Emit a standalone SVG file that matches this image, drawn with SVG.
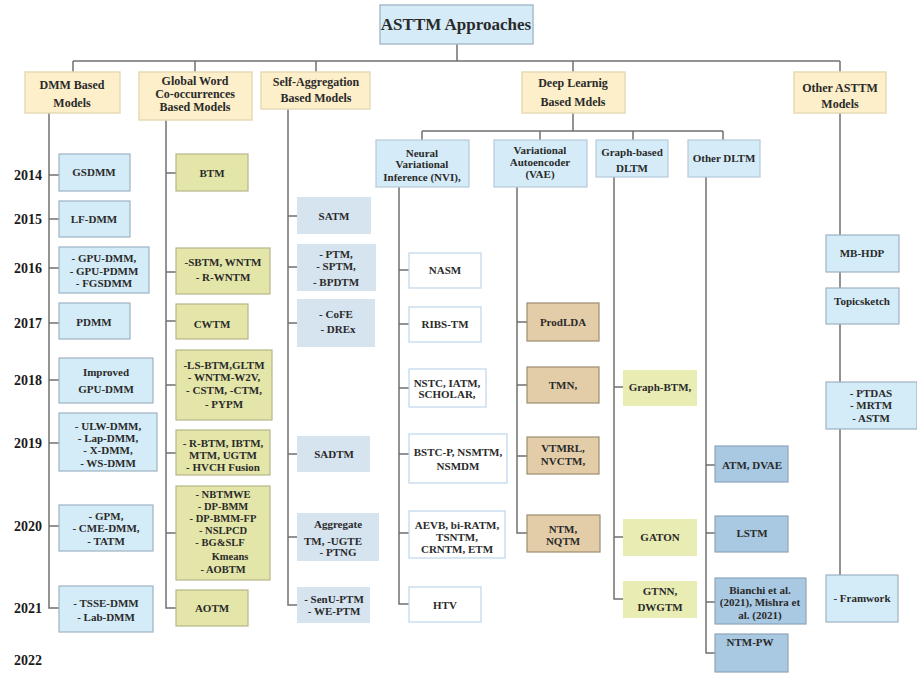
<svg xmlns="http://www.w3.org/2000/svg" width="917" height="673" viewBox="0 0 917 673">
<style>
text{font-family:"Liberation Serif","Times New Roman",serif;font-weight:bold;fill:#2a2a2a;text-anchor:middle}
.t{font-size:11px}
.s{font-size:10.5px}
.c{font-size:12px}
.y{font-size:14px;fill:#1a1a1a}
.title{fill:#d5ecf8;stroke:#a9bccb;stroke-width:1.5}
.cat{fill:#fcefc9;stroke:#e6dab8;stroke-width:1.5}
.sub{fill:#d5ecf8;stroke:#b5cadb;stroke-width:1.2}
.dmm{fill:#d4ecf8;stroke:#9fb2c2;stroke-width:1.2}
.gw{fill:#e3e6a8;stroke:#b6b68c;stroke-width:1.2}
.sa{fill:#d6e4f0;stroke:none}
.nvi{fill:#ffffff;stroke:#bcd6ea;stroke-width:1.2}
.vae{fill:#e3cda8;stroke:#9c8c70;stroke-width:1.2}
.gr{fill:#e9edb3;stroke:none}
.od{fill:#a9c8e2;stroke:#8ea6ba;stroke-width:1.2}
.oa{fill:#d4ecf8;stroke:#9fb2c2;stroke-width:1.2}
#connectors path{fill:none;stroke:#707070;stroke-width:1.5}
</style>
<rect width="917" height="673" fill="#ffffff"/>
<g id="connectors">
<path d="M457,44V61M73,61H840M73,61V72M195,61V72M316,61V72M573,61V72M840,61V72"/>
<path d="M49,113V608H59M49,175H59M49,219H59M49,268H59M49,323H59M49,380H59M49,443H59M49,526H59"/>
<path d="M166,120V608H176M166,173H176M166,272H176M166,321H176M166,385H176M166,453H176M166,533H176"/>
<path d="M288,109V605H297M288,216H297M288,267H297M288,323H297M288,454H297M288,537H297"/>
<path d="M573,113V131M422,131H723M422,131V140M540,131V140M633,131V140M723,131V140"/>
<path d="M399,187V604H409M399,270H409M399,324H409M399,388H409M399,454H409M399,533H409"/>
<path d="M517,187V533H527M517,322H527M517,385H527M517,456H527"/>
<path d="M614,177V599H623M614,387H623M614,537H623"/>
<path d="M706,177V653H715M706,465H715M706,533H715M706,602H715"/>
<path d="M840,113V598H826M840,253H826M840,307H826M840,406H826"/>
</g>
<g id="years">
<text class="y" x="28" y="180">2014</text>
<text class="y" x="28" y="224">2015</text>
<text class="y" x="28" y="273">2016</text>
<text class="y" x="28" y="328">2017</text>
<text class="y" x="28" y="385">2018</text>
<text class="y" x="28" y="448">2019</text>
<text class="y" x="28" y="531">2020</text>
<text class="y" x="28" y="613">2021</text>
<text class="y" x="28" y="665">2022</text>
</g>
<g id="root"><rect class="title" x="380" y="5" width="153" height="39"/><text x="456" y="30" style="font-size:17px">ASTTM Approaches</text></g>
<g id="cat-dmm"><rect class="cat" x="25" y="72" width="95" height="41"/><text class="c" x="72" y="89">DMM Based</text><text class="c" x="72" y="107">Models</text></g>
<g id="cat-global"><rect class="cat" x="139" y="72" width="113" height="48"/><text class="c" x="195" y="85">Global Word</text><text class="c" x="195" y="98">Co-occurrences</text><text class="c" x="195" y="111">Based Models</text></g>
<g id="cat-self"><rect class="cat" x="261" y="72" width="109" height="37"/><text class="c" x="316" y="86">Self-Aggregation</text><text class="c" x="316" y="102">Based Models</text></g>
<g id="cat-deep"><rect class="cat" x="522" y="72" width="103" height="41"/><text class="c" x="573" y="87">Deep Learnig</text><text class="c" x="573" y="106">Based Mdels</text></g>
<g id="cat-other"><rect class="cat" x="794" y="72" width="92" height="41"/><text class="c" x="840" y="92">Other ASTTM</text><text class="c" x="840" y="108">Models</text></g>
<g id="sub-nvi"><rect class="sub" x="376" y="140" width="93" height="47"/><text class="t" x="422" y="157">Neural</text><text class="t" x="422" y="168">Variational</text><text class="t" x="422" y="181">Inference (NVI),</text></g>
<g id="sub-vae"><rect class="sub" x="494" y="140" width="93" height="47"/><text class="t" x="540" y="154">Variational</text><text class="t" x="540" y="166">Autoencoder</text><text class="t" x="540" y="178">(VAE)</text></g>
<g id="sub-graph"><rect class="sub" x="596" y="140" width="72" height="37"/><text class="t" x="632" y="156">Graph-based</text><text class="t" x="632" y="172">DLTM</text></g>
<g id="sub-odltm"><rect class="sub" x="688" y="140" width="72" height="37"/><text class="t" x="724" y="162">Other DLTM</text></g>
<g id="gsdmm"><rect class="dmm" x="59" y="154" width="71" height="37"/><text class="t" x="94" y="176">GSDMM</text></g>
<g id="lfdmm"><rect class="dmm" x="59" y="201" width="71" height="36"/><text class="t" x="94" y="223">LF-DMM</text></g>
<g id="gpudmm"><rect class="dmm" x="59" y="247" width="90" height="46"/><text class="t" x="104" y="262">- GPU-DMM,</text><text class="t" x="104" y="275">- GPU-PDMM</text><text class="t" x="104" y="287">- FGSDMM</text></g>
<g id="pdmm"><rect class="dmm" x="59" y="303" width="71" height="36"/><text class="t" x="94" y="326">PDMM</text></g>
<g id="improved"><rect class="dmm" x="59" y="358" width="94" height="45"/><text class="t" x="106" y="376">Improved</text><text class="t" x="106" y="393">GPU-DMM</text></g>
<g id="ulwdmm"><rect class="dmm" x="59" y="413" width="98" height="58"/><text class="t" x="108" y="430">- ULW-DMM,</text><text class="t" x="108" y="442">- Lap-DMM,</text><text class="t" x="108" y="454">- X-DMM,</text><text class="t" x="108" y="467">- WS-DMM</text></g>
<g id="gpm"><rect class="dmm" x="59" y="505" width="94" height="46"/><text class="t" x="106" y="520">- GPM,</text><text class="t" x="106" y="532">- CME-DMM,</text><text class="t" x="106" y="545">- TATM</text></g>
<g id="tsse"><rect class="dmm" x="59" y="586" width="94" height="46"/><text class="t" x="106" y="607">- TSSE-DMM</text><text class="t" x="106" y="621">- Lab-DMM</text></g>
<g id="btm"><rect class="gw" x="176" y="154" width="72" height="37"/><text class="t" x="212" y="177">BTM</text></g>
<g id="sbtm"><rect class="gw" x="176" y="248" width="94" height="46"/><text class="t" x="223" y="266">-SBTM,  WNTM</text><text class="t" x="223" y="281">- R-WNTM</text></g>
<g id="cwtm"><rect class="gw" x="176" y="304" width="72" height="35"/><text class="t" x="212" y="328">CWTM</text></g>
<g id="lsbtm"><rect class="gw" x="176" y="350" width="96" height="70"/><text class="t" x="224" y="369">-LS-BTM,GLTM</text><text class="t" x="224" y="381">- WNTM-W2V,</text><text class="t" x="224" y="394">- CSTM,  -CTM,</text><text class="t" x="224" y="408">- PYPM</text></g>
<g id="rbtm"><rect class="gw" x="176" y="430" width="94" height="45"/><text class="t" x="223" y="447">- R-BTM, IBTM,</text><text class="t" x="223" y="459">MTM, UGTM</text><text class="t" x="223" y="471">- HVCH Fusion</text></g>
<g id="nbtmwe"><rect class="gw" x="176" y="486" width="94" height="94"/><text class="s" x="223" y="498">- NBTMWE</text><text class="s" x="223" y="510">- DP-BMM</text><text class="s" x="223" y="522">- DP-BMM-FP</text><text class="s" x="223" y="534">- NSLPCD</text><text class="s" x="220" y="546">- BG&amp;SLF</text><text class="s" x="230" y="560">Kmeans</text><text class="s" x="223" y="573">- AOBTM</text></g>
<g id="aotm"><rect class="gw" x="176" y="590" width="72" height="36"/><text class="t" x="212" y="612">AOTM</text></g>
<g id="satm"><rect class="sa" x="297" y="197" width="74" height="37"/><text class="t" x="334" y="220">SATM</text></g>
<g id="ptm"><rect class="sa" x="297" y="244" width="79" height="47"/><text class="t" x="336" y="258">- PTM,</text><text class="t" x="336" y="270">- SPTM,</text><text class="t" x="336" y="286">- BPDTM</text></g>
<g id="cofe"><rect class="sa" x="297" y="299" width="78" height="48"/><text class="t" x="336" y="318">- CoFE</text><text class="t" x="338" y="333">- DREx</text></g>
<g id="sadtm"><rect class="sa" x="297" y="436" width="73" height="36"/><text class="t" x="334" y="458">SADTM</text></g>
<g id="aggregate"><rect class="sa" x="297" y="513" width="82" height="48"/><text class="t" x="338" y="528">Aggregate</text><text class="t" x="333" y="545">TM, -UGTE</text><text class="t" x="338" y="556">- PTNG</text></g>
<g id="senu"><rect class="sa" x="297" y="587" width="73" height="36"/><text class="t" x="334" y="603">-  SenU-PTM</text><text class="t" x="334" y="615">- WE-PTM</text></g>
<g id="nasm"><rect class="nvi" x="409" y="253" width="72" height="35"/><text class="t" x="445" y="274">NASM</text></g>
<g id="ribs"><rect class="nvi" x="409" y="307" width="72" height="35"/><text class="t" x="445" y="328">RIBS-TM</text></g>
<g id="nstc"><rect class="nvi" x="409" y="369" width="77" height="38"/><text class="t" x="447" y="387">NSTC, IATM,</text><text class="t" x="447" y="398">SCHOLAR,</text></g>
<g id="bstc"><rect class="nvi" x="409" y="434" width="98" height="49"/><text class="t" x="458" y="456">BSTC-P, NSMTM,</text><text class="t" x="458" y="470">NSMDM</text></g>
<g id="aevb"><rect class="nvi" x="409" y="511" width="96" height="47"/><text class="t" x="457" y="529">AEVB, bi-RATM,</text><text class="t" x="457" y="541">TSNTM,</text><text class="t" x="457" y="553">CRNTM, ETM</text></g>
<g id="htv"><rect class="nvi" x="409" y="587" width="72" height="35"/><text class="t" x="445" y="609">HTV</text></g>
<g id="prodlda"><rect class="vae" x="527" y="303" width="72" height="38"/><text class="t" x="563" y="326">ProdLDA</text></g>
<g id="tmn"><rect class="vae" x="527" y="367" width="72" height="36"/><text class="t" x="563" y="389">TMN,</text></g>
<g id="vtmrl"><rect class="vae" x="527" y="437" width="72" height="37"/><text class="t" x="563" y="452">VTMRL,</text><text class="t" x="563" y="465">NVCTM,</text></g>
<g id="ntm"><rect class="vae" x="527" y="515" width="73" height="37"/><text class="t" x="563" y="533">NTM,</text><text class="t" x="563" y="545">NQTM</text></g>
<g id="graphbtm"><rect class="gr" x="623" y="370" width="74" height="36"/><text class="t" x="660" y="391">Graph-BTM,</text></g>
<g id="gaton"><rect class="gr" x="623" y="519" width="74" height="37"/><text class="t" x="660" y="541">GATON</text></g>
<g id="gtnn"><rect class="gr" x="623" y="581" width="74" height="37"/><text class="t" x="660" y="595">GTNN,</text><text class="t" x="660" y="611">DWGTM</text></g>
<g id="atm"><rect class="od" x="715" y="446" width="73" height="36"/><text class="t" x="752" y="469">ATM, DVAE</text></g>
<g id="lstm"><rect class="od" x="715" y="516" width="73" height="36"/><text class="t" x="752" y="537">LSTM</text></g>
<g id="bianchi"><rect class="od" x="715" y="578" width="91" height="46"/><text class="t" x="760" y="594">Bianchi et al.</text><text class="t" x="760" y="606">(2021), Mishra et</text><text class="t" x="760" y="619">al. (2021)</text></g>
<g id="ntmpw"><rect class="od" x="715" y="634" width="73" height="38"/><text class="t" x="750" y="646">NTM-PW</text></g>
<g id="mbhdp"><rect class="oa" x="826" y="235" width="73" height="37"/><text class="t" x="862" y="257">MB-HDP</text></g>
<g id="topicsketch"><rect class="oa" x="826" y="288" width="73" height="36"/><text class="t" x="862" y="305">Topicsketch</text></g>
<g id="ptdas"><rect class="oa" x="826" y="382" width="91" height="47"/><text class="t" x="871" y="397">- PTDAS</text><text class="t" x="871" y="409">- MRTM</text><text class="t" x="871" y="422">- ASTM</text></g>
<g id="framwork"><rect class="oa" x="826" y="575" width="72" height="47"/><text class="t" x="862" y="602">- Framwork</text></g>
</svg>
